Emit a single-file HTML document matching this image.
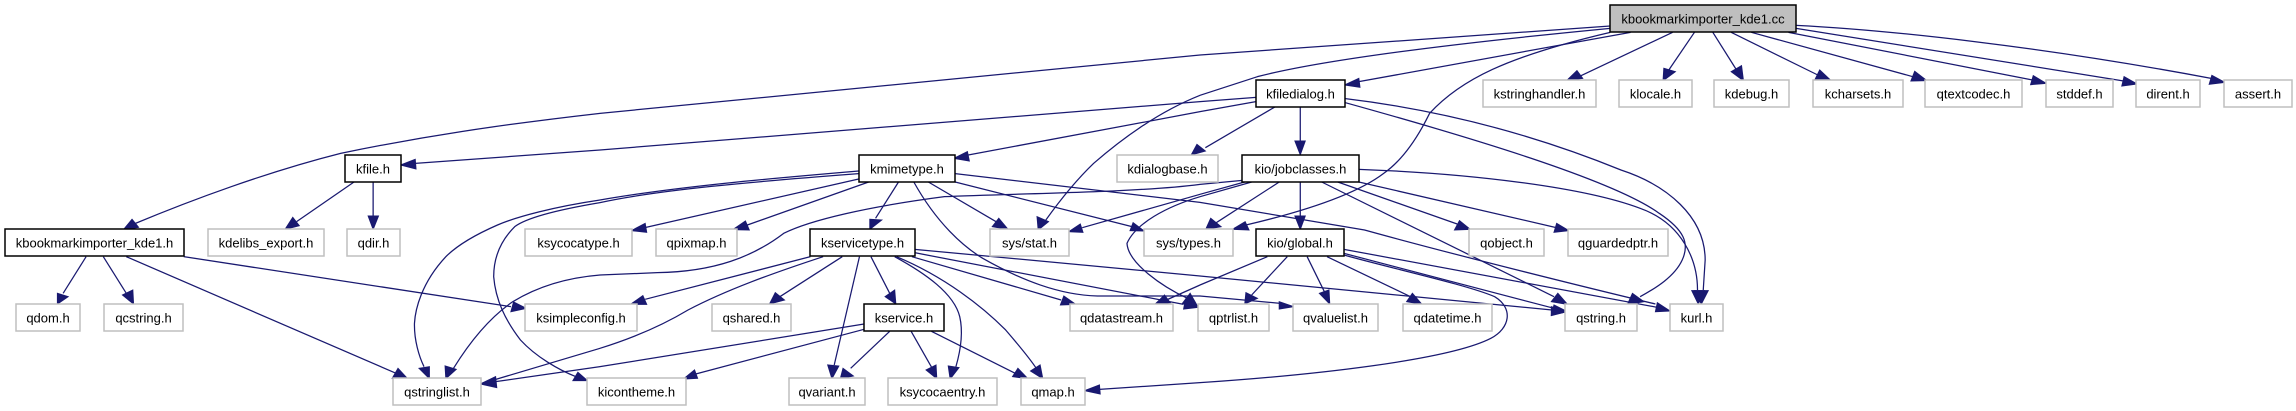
<!DOCTYPE html>
<html><head><meta charset="utf-8"><style>
html,body{margin:0;padding:0;background:#fff;width:2296px;height:411px;overflow:hidden}
svg{display:block}
text{font-family:"Liberation Sans",Arial,sans-serif;font-size:13px;text-anchor:middle;fill:#000}
.e path{fill:none;stroke:#191970;stroke-width:1.25;vector-effect:non-scaling-stroke}
.e polygon{fill:#191970;stroke:#191970;stroke-width:1;vector-effect:non-scaling-stroke}
.g rect{fill:#fff;stroke:#bfbfbf;stroke-width:1.5}
.b rect{fill:#fff;stroke:#000;stroke-width:1.5}
</style></head><body>
<svg width="2296" height="411" viewBox="0 0 2296 411" xmlns="http://www.w3.org/2000/svg">
<rect width="2296" height="411" fill="#fff"/>
<g class="e" transform="translate(0,0) scale(.3827,.33333)">
<path d="M1568,340C1300,375 1100,410 890,460C700,515 500,600 350,672"/><polygon points="322,690 345,658 362,682"/>
<path d="M1568,450L1085,490"/><polygon points="1047,495 1085,478 1087,507"/>
<path d="M925,546L775,665"/><polygon points="745,688 765,652 782,677"/>
<path d="M975,546L975,650"/><polygon points="975,688 962,648 989,648"/>
<path d="M225,770L165,880"/><polygon points="150,912 150,880 178,890"/>
<path d="M270,770L330,880"/><polygon points="349,912 320,885 347,870"/>
<path d="M330,770L1035,1120"/><polygon points="1065,1136 1025,1135 1040,1105"/>
<path d="M480,770L1335,920"/><polygon points="1375,925 1335,935 1342,906"/>
<path d="M1568,600C1450,620 1350,650 1300,675C1250,700 1200,730 1165,770C1100,850 1085,930 1083,970C1082,1020 1095,1070 1108,1100"/><polygon points="1122,1136 1095,1105 1122,1100"/>
<path d="M1568,608C1480,625 1380,650 1345,680C1310,720 1290,770 1290,830C1295,900 1320,960 1360,1020C1400,1070 1460,1110 1505,1130"/><polygon points="1535,1142 1497,1142 1510,1117"/>
<path d="M1568,825C1460,835 1390,870 1340,905C1270,960 1220,1040 1185,1105"/><polygon points="1165,1136 1163,1098 1192,1108"/>
<path d="M1568,1045L1290,1140"/><path d="M1568,1100L1295,1145"/><polygon points="1255,1152 1295,1130 1298,1163"/>
</g>
<g class="e" transform="translate(600,0) scale(.3827,.33333)">
<path d="M1568,165L0,340"/>
<path d="M1568,305L0,450"/>
<path d="M1568,335L962,465"/><polygon points="925,475 960,455 965,483"/>
<path d="M676,513C450,535 200,560 0,600"/><path d="M676,521C400,545 150,570 0,608"/>
<path d="M676,537L120,682"/><polygon points="82,692 118,670 122,697"/>
<path d="M702,546L385,675"/><polygon points="347,689 380,663 390,690"/>
<path d="M780,546L720,655"/><polygon points="705,688 705,658 736,660"/>
<path d="M858,546L1035,665"/><polygon points="1066,688 1025,680 1042,655"/>
<path d="M928,546L1390,680"/><polygon points="1422,693 1385,692 1393,668"/>
<path d="M928,521L1568,607"/>
<path d="M820,546C880,670 950,740 1000,775C1100,840 1200,885 1300,888L1568,888"/>
<path d="M1568,286C1450,340 1350,430 1290,490C1240,545 1190,620 1165,660"/><polygon points="1145,690 1142,650 1172,665"/>
<path d="M1568,583L1260,683"/><polygon points="1225,695 1255,672 1262,697"/>
<path d="M1568,553C1400,578 1100,580 900,590C700,620 550,660 480,700C400,770 300,815 150,818L0,825"/>
<path d="M1568,590C1480,620 1400,670 1377,730C1380,790 1470,860 1535,895"/><polygon points="1562,920 1522,910 1542,880"/>
<path d="M550,770L118,898"/><polygon points="80,913 112,887 122,913"/>
<path d="M583,770C450,820 330,870 230,930C150,985 70,1020 0,1045"/>
<path d="M633,770L470,890"/><polygon points="443,912 458,878 482,900"/>
<path d="M678,770L612,1095"/><polygon points="606,1136 595,1095 624,1098"/>
<path d="M708,770L757,880"/><polygon points="773,912 745,890 770,870"/>
<path d="M770,770C850,820 925,880 940,950C950,1000 940,1060 930,1100"/><polygon points="915,1137 910,1098 938,1103"/>
<path d="M775,770C900,830 1000,920 1060,990C1090,1030 1120,1070 1140,1105"/><polygon points="1157,1136 1125,1113 1150,1095"/>
<path d="M815,770L1205,900"/><polygon points="1243,913 1203,915 1212,888"/>
<path d="M822,758L1525,913"/><polygon points="1562,922 1525,927 1530,898"/>
<path d="M822,748L1568,828"/>
<path d="M690,972L0,1100"/>
<path d="M690,988L250,1122"/><polygon points="218,1137 247,1110 255,1135"/>
<path d="M757,994L655,1105"/><polygon points="628,1136 635,1105 662,1128"/>
<path d="M813,994L868,1105"/><polygon points="880,1136 852,1110 878,1095"/>
<path d="M866,994L1085,1120"/><polygon points="1118,1136 1078,1130 1092,1105"/>
<path d="M1568,1148L1305,1168"/><polygon points="1266,1172 1305,1155 1307,1182"/>
<path d="M1568,855L1480,900"/><polygon points="1450,913 1475,885 1490,908"/>
</g>
<g class="e" transform="translate(1200,0) scale(.3827,.33333)">
<path d="M1072,78L0,165"/>
<path d="M1072,85C800,115 350,170 150,230L0,286"/>
<path d="M1125,97L415,245"/><polygon points="378,255 415,235 418,262"/>
<path d="M1072,97C800,170 680,240 600,340C570,410 530,480 480,520C400,590 250,640 120,675"/><polygon points="85,688 118,665 128,690"/>
<path d="M1235,97L990,230"/><polygon points="958,242 985,212 1000,235"/>
<path d="M1292,97L1225,210"/><polygon points="1210,242 1212,205 1242,215"/>
<path d="M1340,97L1402,210"/><polygon points="1420,242 1388,215 1415,197"/>
<path d="M380,296C700,340 950,440 1100,510C1220,555 1320,650 1320,780L1315,870"/><polygon points="1310,912 1292,872 1328,872"/>
<path d="M380,308C700,410 1080,540 1200,640C1265,690 1280,730 1260,780C1240,830 1190,865 1150,890"/><polygon points="1117,913 1130,880 1160,905"/>
<path d="M262,320L262,425"/><polygon points="262,464 248,423 275,423"/>
<path d="M197,320L14,443"/><polygon points="-23,465 -8,433 14,453"/>
<path d="M146,305L0,335"/>
<path d="M146,292L0,305"/>
<path d="M415,508C700,520 1000,560 1150,625C1260,670 1300,780 1300,870"/><polygon points="1302,912 1285,872 1318,872"/>
<path d="M360,546L672,672"/><polygon points="706,688 665,690 678,662"/>
<path d="M415,546L928,682"/><polygon points="964,692 925,697 932,670"/>
<path d="M318,546L925,890"/><polygon points="960,913 918,905 935,880"/>
<path d="M262,546L262,650"/><polygon points="262,688 248,648 275,648"/>
<path d="M228,770L135,885"/><polygon points="117,912 120,878 150,895"/>
<path d="M280,770L325,875"/><polygon points="339,912 312,880 337,870"/>
<path d="M332,770L550,890"/><polygon points="580,913 540,905 555,880"/>
<path d="M376,748L1195,922"/><polygon points="1228,933 1190,935 1195,908"/>
<path d="M376,760L925,925"/><polygon points="960,935 918,945 925,915"/>
<path d="M376,765C500,805 700,855 770,890C820,925 810,985 760,1015C650,1080 300,1125 0,1148"/>
<path d="M0,607L430,690C650,760 1000,860 1190,912"/>
<path d="M0,888L210,910"/><polygon points="245,920 207,905 207,927"/>
<path d="M0,828L920,930"/><polygon points="958,935 918,920 918,947"/>
<path d="M111,541L0,553"/><path d="M120,545L0,583"/><path d="M135,546L0,590"/>
<path d="M207,546L40,670"/><polygon points="15,688 28,655 55,680"/>
<path d="M176,770L0,855"/>
</g>
<g class="e" transform="translate(1700,0) scale(.38,.33333)">
<path d="M82,97L310,225"/><polygon points="345,242 302,240 315,210"/>
<path d="M135,97L560,230"/><polygon points="597,242 555,243 565,214"/>
<path d="M233,97L875,240"/><polygon points="911,250 870,254 877,227"/>
<path d="M253,85L1115,243"/><polygon points="1150,252 1110,258 1116,230"/>
<path d="M253,76C500,90 900,140 1345,235"/><polygon points="1381,247 1340,253 1347,226"/>
</g>
<g class="b">
<rect x="1610" y="5" width="186" height="27" style="fill:#bfbfbf"/><text x="1703" y="23.5">kbookmarkimporter_kde1.cc</text>
<rect x="1256" y="80" width="89" height="27"/><text x="1300.5" y="98.5">kfiledialog.h</text>
<rect x="345" y="155" width="56" height="27"/><text x="373" y="173.5">kfile.h</text>
<rect x="859" y="155" width="96" height="27"/><text x="907" y="173.5">kmimetype.h</text>
<rect x="1242" y="155" width="117" height="27"/><text x="1300.5" y="173.5">kio/jobclasses.h</text>
<rect x="5" y="229" width="179" height="27"/><text x="94.5" y="247.5">kbookmarkimporter_kde1.h</text>
<rect x="810" y="229" width="105" height="27"/><text x="862.5" y="247.5">kservicetype.h</text>
<rect x="1256" y="229" width="88" height="27"/><text x="1300" y="247.5">kio/global.h</text>
<rect x="864" y="304" width="80" height="27"/><text x="904" y="322.5">kservice.h</text>
</g>
<g class="g">
<rect x="1483" y="80" width="113" height="27"/><text x="1539.5" y="98.5">kstringhandler.h</text>
<rect x="1619" y="80" width="73" height="27"/><text x="1655.5" y="98.5">klocale.h</text>
<rect x="1714" y="80" width="75" height="27"/><text x="1751.5" y="98.5">kdebug.h</text>
<rect x="1813" y="80" width="90" height="27"/><text x="1858" y="98.5">kcharsets.h</text>
<rect x="1925" y="80" width="97" height="27"/><text x="1973.5" y="98.5">qtextcodec.h</text>
<rect x="2046" y="80" width="67" height="27"/><text x="2079.5" y="98.5">stddef.h</text>
<rect x="2136" y="80" width="64" height="27"/><text x="2168" y="98.5">dirent.h</text>
<rect x="2224" y="80" width="68" height="27"/><text x="2258" y="98.5">assert.h</text>
<rect x="1117" y="155" width="101" height="27"/><text x="1167.5" y="173.5">kdialogbase.h</text>
<rect x="208" y="229" width="116" height="27"/><text x="266" y="247.5">kdelibs_export.h</text>
<rect x="347" y="229" width="53" height="27"/><text x="373.5" y="247.5">qdir.h</text>
<rect x="525" y="229" width="107" height="27"/><text x="578.5" y="247.5">ksycocatype.h</text>
<rect x="656" y="229" width="81" height="27"/><text x="696.5" y="247.5">qpixmap.h</text>
<rect x="990" y="229" width="79" height="27"/><text x="1029.5" y="247.5">sys/stat.h</text>
<rect x="1144" y="229" width="89" height="27"/><text x="1188.5" y="247.5">sys/types.h</text>
<rect x="1469" y="229" width="75" height="27"/><text x="1506.5" y="247.5">qobject.h</text>
<rect x="1568" y="229" width="100" height="27"/><text x="1618" y="247.5">qguardedptr.h</text>
<rect x="16" y="304" width="64" height="27"/><text x="48" y="322.5">qdom.h</text>
<rect x="104" y="304" width="79" height="27"/><text x="143.5" y="322.5">qcstring.h</text>
<rect x="525" y="304" width="112" height="27"/><text x="581" y="322.5">ksimpleconfig.h</text>
<rect x="712" y="304" width="79" height="27"/><text x="751.5" y="322.5">qshared.h</text>
<rect x="1070" y="304" width="103" height="27"/><text x="1121.5" y="322.5">qdatastream.h</text>
<rect x="1198" y="304" width="71" height="27"/><text x="1233.5" y="322.5">qptrlist.h</text>
<rect x="1293" y="304" width="85" height="27"/><text x="1335.5" y="322.5">qvaluelist.h</text>
<rect x="1403" y="304" width="89" height="27"/><text x="1447.5" y="322.5">qdatetime.h</text>
<rect x="1565" y="304" width="72" height="27"/><text x="1601" y="322.5">qstring.h</text>
<rect x="1670" y="304" width="53" height="27"/><text x="1696.5" y="322.5">kurl.h</text>
<rect x="393" y="378" width="88" height="27"/><text x="437" y="396.5">qstringlist.h</text>
<rect x="587" y="378" width="99" height="27"/><text x="636.5" y="396.5">kicontheme.h</text>
<rect x="789" y="378" width="76" height="27"/><text x="827" y="396.5">qvariant.h</text>
<rect x="888" y="378" width="109" height="27"/><text x="942.5" y="396.5">ksycocaentry.h</text>
<rect x="1021" y="378" width="64" height="27"/><text x="1053" y="396.5">qmap.h</text>
</g>
</svg>
</body></html>
